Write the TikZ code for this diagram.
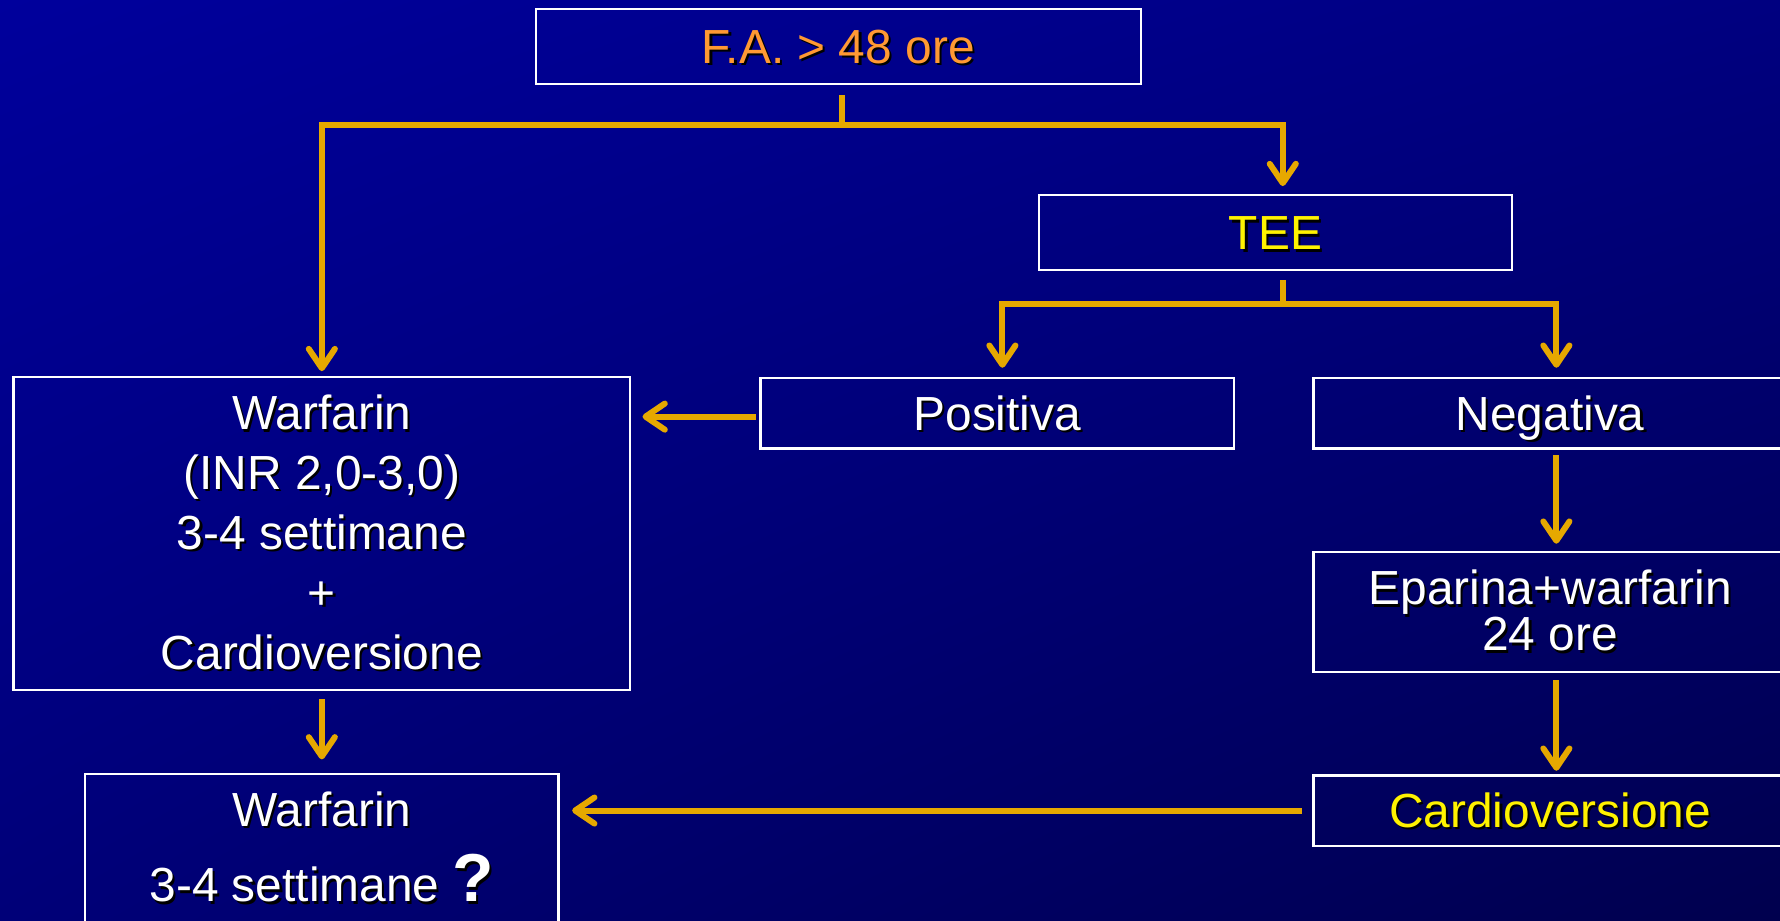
\documentclass[tikz,border=0pt]{standalone}
\usepackage{fontspec}
\setmainfont{Liberation Sans}
\usepackage{xcolor}
\usetikzlibrary{arrows.meta, shadings}

\definecolor{bgUL}{RGB}{0,0,156}
\definecolor{bgUR}{RGB}{0,0,128}
\definecolor{bgLL}{RGB}{0,0,120}
\definecolor{bgLR}{RGB}{0,0,78}
\definecolor{gold}{RGB}{230,168,0}
\definecolor{faorange}{RGB}{255,153,51}

\newcommand{\shadowed}[1]{\makebox[0pt][l]{\kern1.1pt\raisebox{-1.1pt}{\color{black}#1}}#1}

\begin{document}
\begin{tikzpicture}[x=0.02cm, y=-0.02cm,
		box/.style={draw=white, line width=1.2pt, inner sep=0pt, text=white, align=center, font=\fontsize{24}{30}\selectfont},
		oneline/.style={box, text height=17.2pt, text depth=0pt},
		link/.style={draw=gold, line width=3pt},
		arr/.style={link, -{Straight Barb[length=0.34cm, width=0.46cm, round]}}]

			\shade [upper left=bgUL, upper right=bgUR, lower left=bgLL, lower right=bgLR] (0,0) rectangle (1568,811);
			\useasboundingbox (0,0) rectangle (1568,811);

			\node [oneline, minimum width=10.66cm, minimum height=1.32cm, text=faorange] (fa) at (738.5,41) {\shadowed{F.A. > 48 ore}};
			\node [oneline, minimum width=8.34cm, minimum height=1.32cm, text=yellow] (tee) at (1123.5,205) {\shadowed{TEE}};
			\node [oneline, minimum width=8.34cm, minimum height=1.24cm] (pos) at (878.5,364) {\shadowed{Positiva}};
			\node [oneline, minimum width=8.34cm, minimum height=1.24cm] (neg) at (1365.5,364) {\shadowed{Negativa}};
			\node [box, minimum width=10.86cm, minimum height=5.52cm] (war) at (283.5,470)
				{\shadowed{Warfarin}\\\shadowed{(INR 2,0-3,0)}\\\shadowed{3-4 settimane}\\\shadowed{+}\\\shadowed{Cardioversione}};
			\node [box, minimum width=8.34cm, minimum height=2.12cm] (epa) at (1365.5,539)
				{\shadowed{Eparina+warfarin}\\[-7pt]\shadowed{24 ore}};
			\node [oneline, minimum width=8.34cm, minimum height=1.24cm, text=yellow] (card) at (1365.5,714) {\shadowed{Cardioversione}};
			\node [box, minimum width=8.34cm, minimum height=2.6cm] (war2) at (283.5,747)
				{\shadowed{Warfarin}\\[8pt]\shadowed{3-4 settimane {\fontsize{34}{34}\selectfont\bfseries ?}}};

			\coordinate (j1) at (742,110);
			\coordinate (j2) at (1130,268);
			\coordinate (pw) at ([yshift=-0.06cm]pos.west);

			\begin{scope}
				\draw [link, shorten <=0.18cm] (fa.south -| j1) -- (j1);
				\draw [arr, shorten >=0.08cm] (j1) -| (war.north);
				\draw [arr, shorten >=0.14cm] (j1) -| ([xshift=0.13cm]tee.north);

				\draw [link, shorten <=0.16cm] (tee.south -| j2) -- (j2);
				\draw [arr, shorten >=0.16cm] (j2) -| ([xshift=0.09cm]pos.north);
				\draw [arr, shorten >=0.16cm] (j2) -| ([xshift=0.11cm]neg.north);

				\draw [arr, shorten <=0.06cm, shorten >=0.2cm] (pw) -- (war.east |- pw);
				\draw [arr, shorten <=0.1cm, shorten >=0.12cm] ([xshift=0.11cm]neg.south) -- ([xshift=0.11cm]epa.north);
				\draw [arr, shorten <=0.12cm, shorten >=0.06cm] ([xshift=0.11cm]epa.south) -- ([xshift=0.11cm]card.north);
				\draw [arr, shorten <=0.14cm, shorten >=0.24cm] (war.south) -- (war2.north);
				\draw [arr, shorten <=0.18cm, shorten >=0.22cm] (card.west) -- (war2.east |- card.west);
			\end{scope}
		\end{tikzpicture}
\end{document}
